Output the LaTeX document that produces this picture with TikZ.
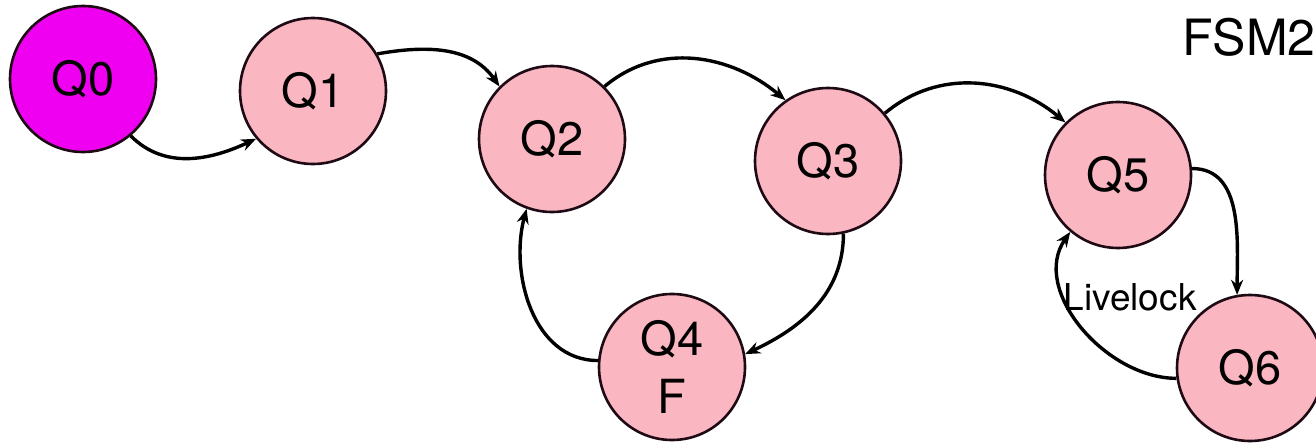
\documentclass[tikz,border=0pt]{standalone}
\usepackage{fontspec}
\setmainfont{TeX Gyre Heros}
\usetikzlibrary{arrows.meta}
\definecolor{pinkfill}{RGB}{250,182,193}
\definecolor{magfill}{RGB}{240,0,240}
\definecolor{edge}{RGB}{30,10,20}
\begin{document}
\begin{tikzpicture}[x=1pt,y=-1pt,
  state/.style={circle,draw=edge,line width=2.6pt,fill=pinkfill,minimum size=146pt,inner sep=0pt,
    font=\fontsize{47}{58}\selectfont,align=center},
  trans/.style={line width=3.4pt,draw=black,-{Stealth[length=15pt,width=12pt]}}]
\useasboundingbox (0,0) rectangle (1316,442);
\node[state,fill=magfill] (q0) at (83,79) {Q0};
\node[state] (q1) at (313,91) {Q1};
\node[state] (q2) at (552,139) {Q2};
\node[state] (q3) at (828,161) {Q3};
\node[state] (q5) at (1118,175) {Q5};
\node[state] (q4) at (672,367) {Q4\\F};
\node[state] (q6) at (1250,368) {Q6};
\node[font=\fontsize{50}{60}\selectfont] (fsm) at (1249,37) {FSM2};
\node[font=\fontsize{37}{44}\selectfont] (live) at (1130,297) {Livelock};
\draw[trans] (q0.-50) to[out=-45,in=205] (q1.-140);
\draw[trans] (q1.30) to[out=10,in=125] (q2.135);
\draw[trans] (q2.45) to[out=40,in=140] (q3.125);
\draw[trans] (q3.40) to[out=40,in=140] (q5.135);
\draw[trans] (q5.5) to[out=0,in=90] (q6.100);
\draw[trans] (q6.188) to[out=180,in=235] (q5.-130);
\draw[trans] (q3.-78) to[out=-90,in=25] (q4.10);
\draw[trans] (q4.175) to[out=180,in=255] (q2.-110);
\end{tikzpicture}
\end{document}
